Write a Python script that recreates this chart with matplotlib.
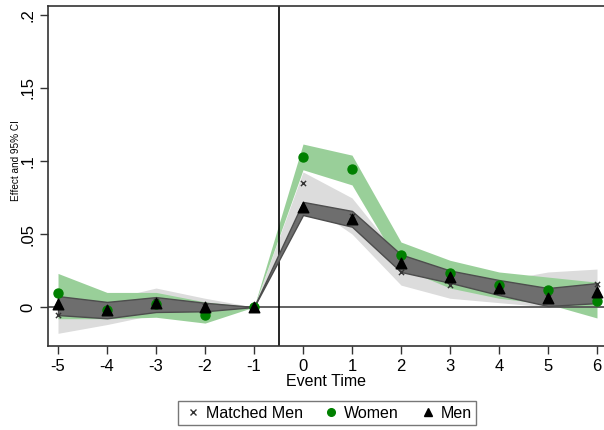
import matplotlib.pyplot as plt
from matplotlib.lines import Line2D

plt.rcParams['font.family'] = ['Liberation Sans', 'DejaVu Sans']
plt.rcParams['axes.unicode_minus'] = False

# event time
event_time = [-5, -4, -3, -2, -1, 0, 1, 2, 3, 4, 5, 6]

# women: point estimates and 95% CI
women = [0.0096, -0.002, 0.002, -0.0055, 0.0, 0.103, 0.0945, 0.0356, 0.023, 0.015, 0.012, 0.004]
women_lo = [-0.008, -0.008, -0.007, -0.011, 0.0, 0.094, 0.0836, 0.027, 0.013, 0.006, 0.002, -0.0075]
women_hi = [0.023, 0.010, 0.010, 0.0035, 0.0, 0.1116, 0.104, 0.0445, 0.032, 0.024, 0.0205, 0.017]

# men
men = [0.002, -0.002, 0.003, 0.0, 0.0, 0.0685, 0.060, 0.030, 0.0205, 0.013, 0.006, 0.0103]
men_lo = [-0.0055, -0.0077, -0.0034, -0.0029, 0.0, 0.063, 0.055, 0.024, 0.0166, 0.0082, 0.0007, 0.0027]
men_hi = [0.0075, 0.0035, 0.0068, 0.0029, 0.0, 0.072, 0.0658, 0.036, 0.025, 0.0185, 0.013, 0.0164]

# matched men
matched = [-0.0055, -0.002, 0.004, 0.001, 0.0, 0.085, 0.062, 0.024, 0.015, 0.011, 0.007, 0.016]
matched_lo = [-0.018, -0.012, -0.005, -0.003, 0.0, 0.073, 0.050, 0.015, 0.006, 0.003, 0.0, 0.005]
matched_hi = [0.009, 0.005, 0.013, 0.006, 0.0, 0.0925, 0.0747, 0.033, 0.022, 0.018, 0.024, 0.026]

fig = plt.figure(figsize=(6.04, 4.30), dpi=100)
ax = fig.add_axes([0.0795, 0.1953, 0.9205, 0.791])

ax.fill_between(event_time, matched_lo, matched_hi, color='#dcdcdc', lw=0, zorder=1)
ax.fill_between(event_time, women_lo, women_hi, color='#99cf99', lw=0, zorder=2)
ax.fill_between(event_time, men_lo, men_hi, facecolor='#6e6e6e', edgecolor='#4d4d4d',
                lw=1, zorder=3)

ax.axhline(0, color='#555555', lw=1.3, zorder=2.5)
ax.axvline(-0.5, color='black', lw=1.2, zorder=2.5)

ax.scatter(event_time, matched, marker='x', s=14, color='#333333', lw=1, zorder=4)
ax.scatter(event_time, women, marker='o', s=42, color='#008000', zorder=4)
ax.scatter(event_time, men, marker='^', s=58, color='black', zorder=5)

ax.set_xlim(-5.204, 6.143)
ax.set_ylim(-0.0267, 0.2062)
ax.set_xticks(event_time)
ax.set_yticks([0, 0.05, 0.1, 0.15, 0.2])
ax.set_yticklabels(['0', '.05', '.1', '.15', '.2'], rotation=90, va='center')
ax.tick_params(labelsize=12, length=6, width=1, color='#333333', pad=3)

for s in ['left', 'bottom', 'top']:
    ax.spines[s].set_color('#333333')
    ax.spines[s].set_linewidth(1.2)
ax.spines['right'].set_visible(False)

ax.set_xlabel('Event Time', fontsize=11.5, labelpad=0)
ax.set_ylabel('Effect and 95% CI', fontsize=7.2)
ax.yaxis.set_label_coords(-0.0486, 0.544)

handles = [
    Line2D([], [], marker='x', ls='', color='#333333', markersize=4.5, mew=1, label='Matched Men'),
    Line2D([], [], marker='o', ls='', color='#008000', markersize=5.5, label='Women'),
    Line2D([], [], marker='^', ls='', color='black', markersize=6, label='Men'),
]
fig.legend(handles=handles, loc='center', bbox_to_anchor=(0.542, 0.0395), ncol=3,
           fontsize=11.5, frameon=True, fancybox=False, edgecolor='#555555',
           handletextpad=0.2, columnspacing=1.2, handlelength=1.2, borderpad=0.3)

fig.savefig('out.png', dpi=100)
